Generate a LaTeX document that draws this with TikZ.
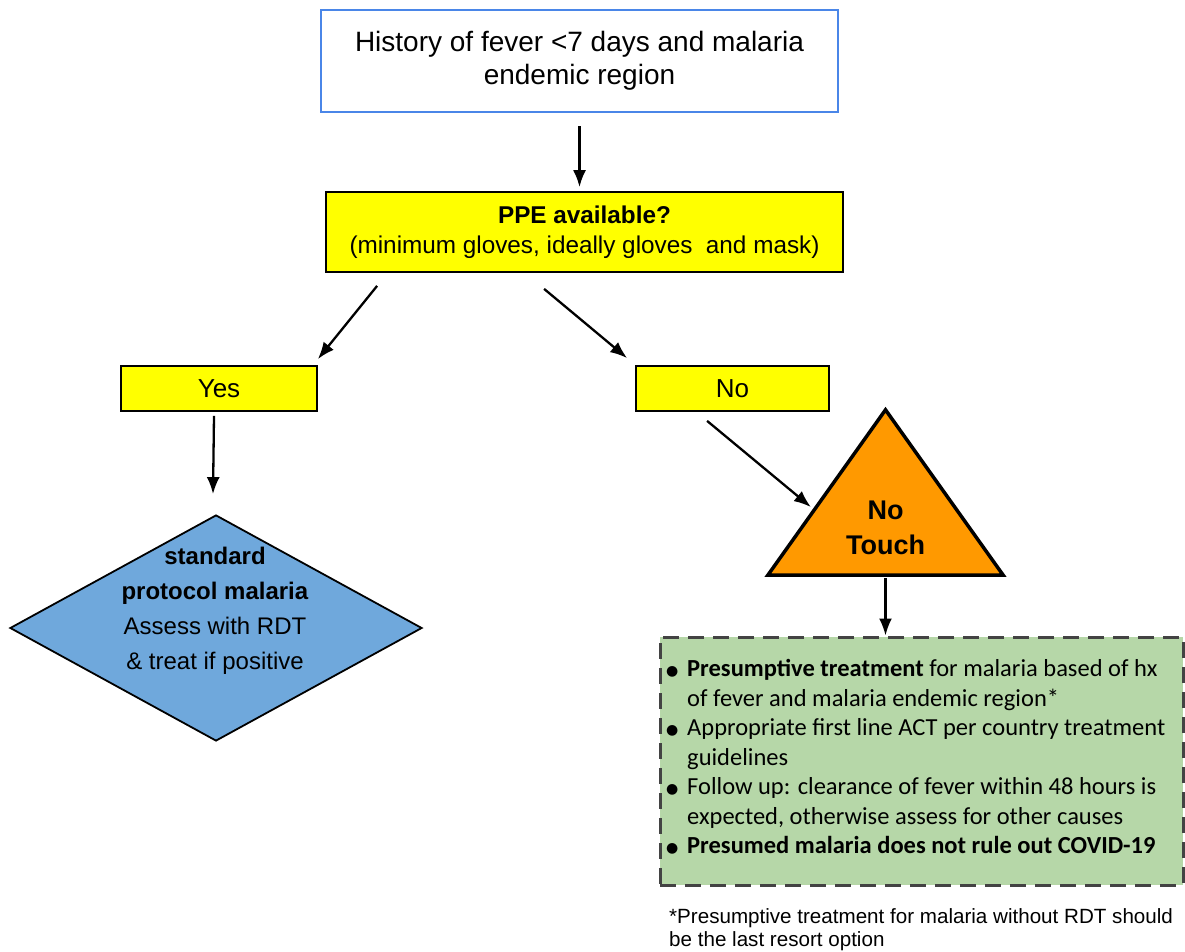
\documentclass[tikz,border=0pt]{standalone}
\usepackage{fontspec}
\setmainfont{Liberation Sans}
\newfontfamily\carlito{Carlito}
\newfontfamily\dejavu{DejaVu Sans}
\usetikzlibrary{arrows.meta,shapes.geometric,calc}
\definecolor{boxblue}{HTML}{4A86E8}
\definecolor{yel}{HTML}{FFFF00}
\definecolor{dblue}{HTML}{6FA8DC}
\definecolor{orng}{HTML}{FF9900}
\definecolor{lgreen}{HTML}{B6D7A8}
\definecolor{dgrey}{HTML}{434343}
\newcommand\blt{\makebox[21pt][l]{\raisebox{1pt}{\dejavu\fontsize{14}{14}\selectfont ●}}}
\newcommand\ind{\hspace*{21pt}}
\begin{document}
\begin{tikzpicture}[x=1pt,y=-1pt,
  arr/.style={-{Latex[length=17pt,width=13pt]}, line width=2.3pt},
  ybox/.style={draw=black, line width=1.8pt, fill=yel, inner sep=0pt, align=center},
  txt/.style={inner sep=0pt, align=center}]
\useasboundingbox[fill=white] (0,0) rectangle (1185,952);
% top box
\node[draw=boxblue, line width=2.2pt, fill=white, minimum width=517pt, minimum height=102pt,
      txt, font=\fontsize{28}{33}\selectfont] (top) at (579.5,61)
      {History of fever <7 days and malaria\\endemic region};
% PPE box
\node[ybox, minimum width=517pt, minimum height=80pt, font=\fontsize{24.3}{30}\selectfont] (ppe) at (584.5,232)
      {\textbf{PPE available?}\\(minimum gloves, ideally gloves\ \ and mask)};
% Yes / No
\node[ybox, minimum width=196pt, minimum height=45pt, font=\fontsize{26}{30}\selectfont] (yes) at (219,388.5) {Yes};
\node[ybox, minimum width=193pt, minimum height=45pt, font=\fontsize{26}{30}\selectfont] (no) at (732.5,388.5) {No};
% diamond
\node[diamond, draw=black, line width=1.8pt, fill=dblue, minimum width=412pt, minimum height=226pt, inner sep=0pt] (dia) at (216,628) {};
\node[txt, font=\fontsize{24}{35}\selectfont] (diatext) at (215,611)
      {\textbf{standard}\\\textbf{protocol malaria}\\Assess with RDT\\\& treat if positive};
% triangle
\node[minimum width=235pt, minimum height=165pt, inner sep=0pt] (tri) at (885.5,492.5) {};
\draw[line width=3.5pt, line join=miter, fill=orng] (tri.north) -- (tri.south east) -- (tri.south west) -- cycle;
\node[txt, font=\bfseries\fontsize{27}{35}\selectfont] (tritext) at (885.5,527.5) {No\\Touch};
% green box
\node[draw=dgrey, line width=3pt, dash pattern=on 16pt off 9pt, fill=lgreen, minimum width=523pt, minimum height=248pt, inner sep=0pt] (green) at (921.5,761) {};
\node[inner sep=0pt, anchor=west, align=left, font=\carlito\fontsize{24.5}{29.5}\selectfont] (list) at (666,757)
  {\blt\textbf{Presumptive treatment} for malaria based of hx\\
   \ind of fever and malaria endemic region*\\
   \blt Appropriate first line ACT per country treatment\\
   \ind guidelines\\
   \blt Follow up: clearance of fever within 48 hours is\\
   \ind expected, otherwise assess for other causes\\
   \blt\textbf{Presumed malaria does not rule out COVID-19}};
% footnote
\node[inner sep=0pt, anchor=west, align=left, font=\fontsize{20.6}{23}\selectfont] (note) at (669,930)
  {*Presumptive treatment for malaria without RDT should\\be the last resort option};
% arrows
\draw[arr] ([yshift=-13pt]top.south) -- ([yshift=4pt]top.south |- ppe.north);
\draw[arr] ([shift={(52pt,-13pt)}]ppe.south west) -- ([yshift=6pt]yes.north east);
\draw[arr] ([shift={(219pt,-16pt)}]ppe.south west) -- ([shift={(-8pt,7pt)}]no.north west);
\draw[arr] ([shift={(-5pt,-4pt)}]yes.south) -- ([shift={(-3pt,20pt)}]dia.north);
\draw[arr] ([shift={(72pt,-9pt)}]no.south west) -- ($(tri.north)!0.6!(tri.south west)+(-4,-2)$);
\draw[arr] ([yshift=-3pt]tri.south) -- (tri.south |- green.north);
\end{tikzpicture}
\end{document}
